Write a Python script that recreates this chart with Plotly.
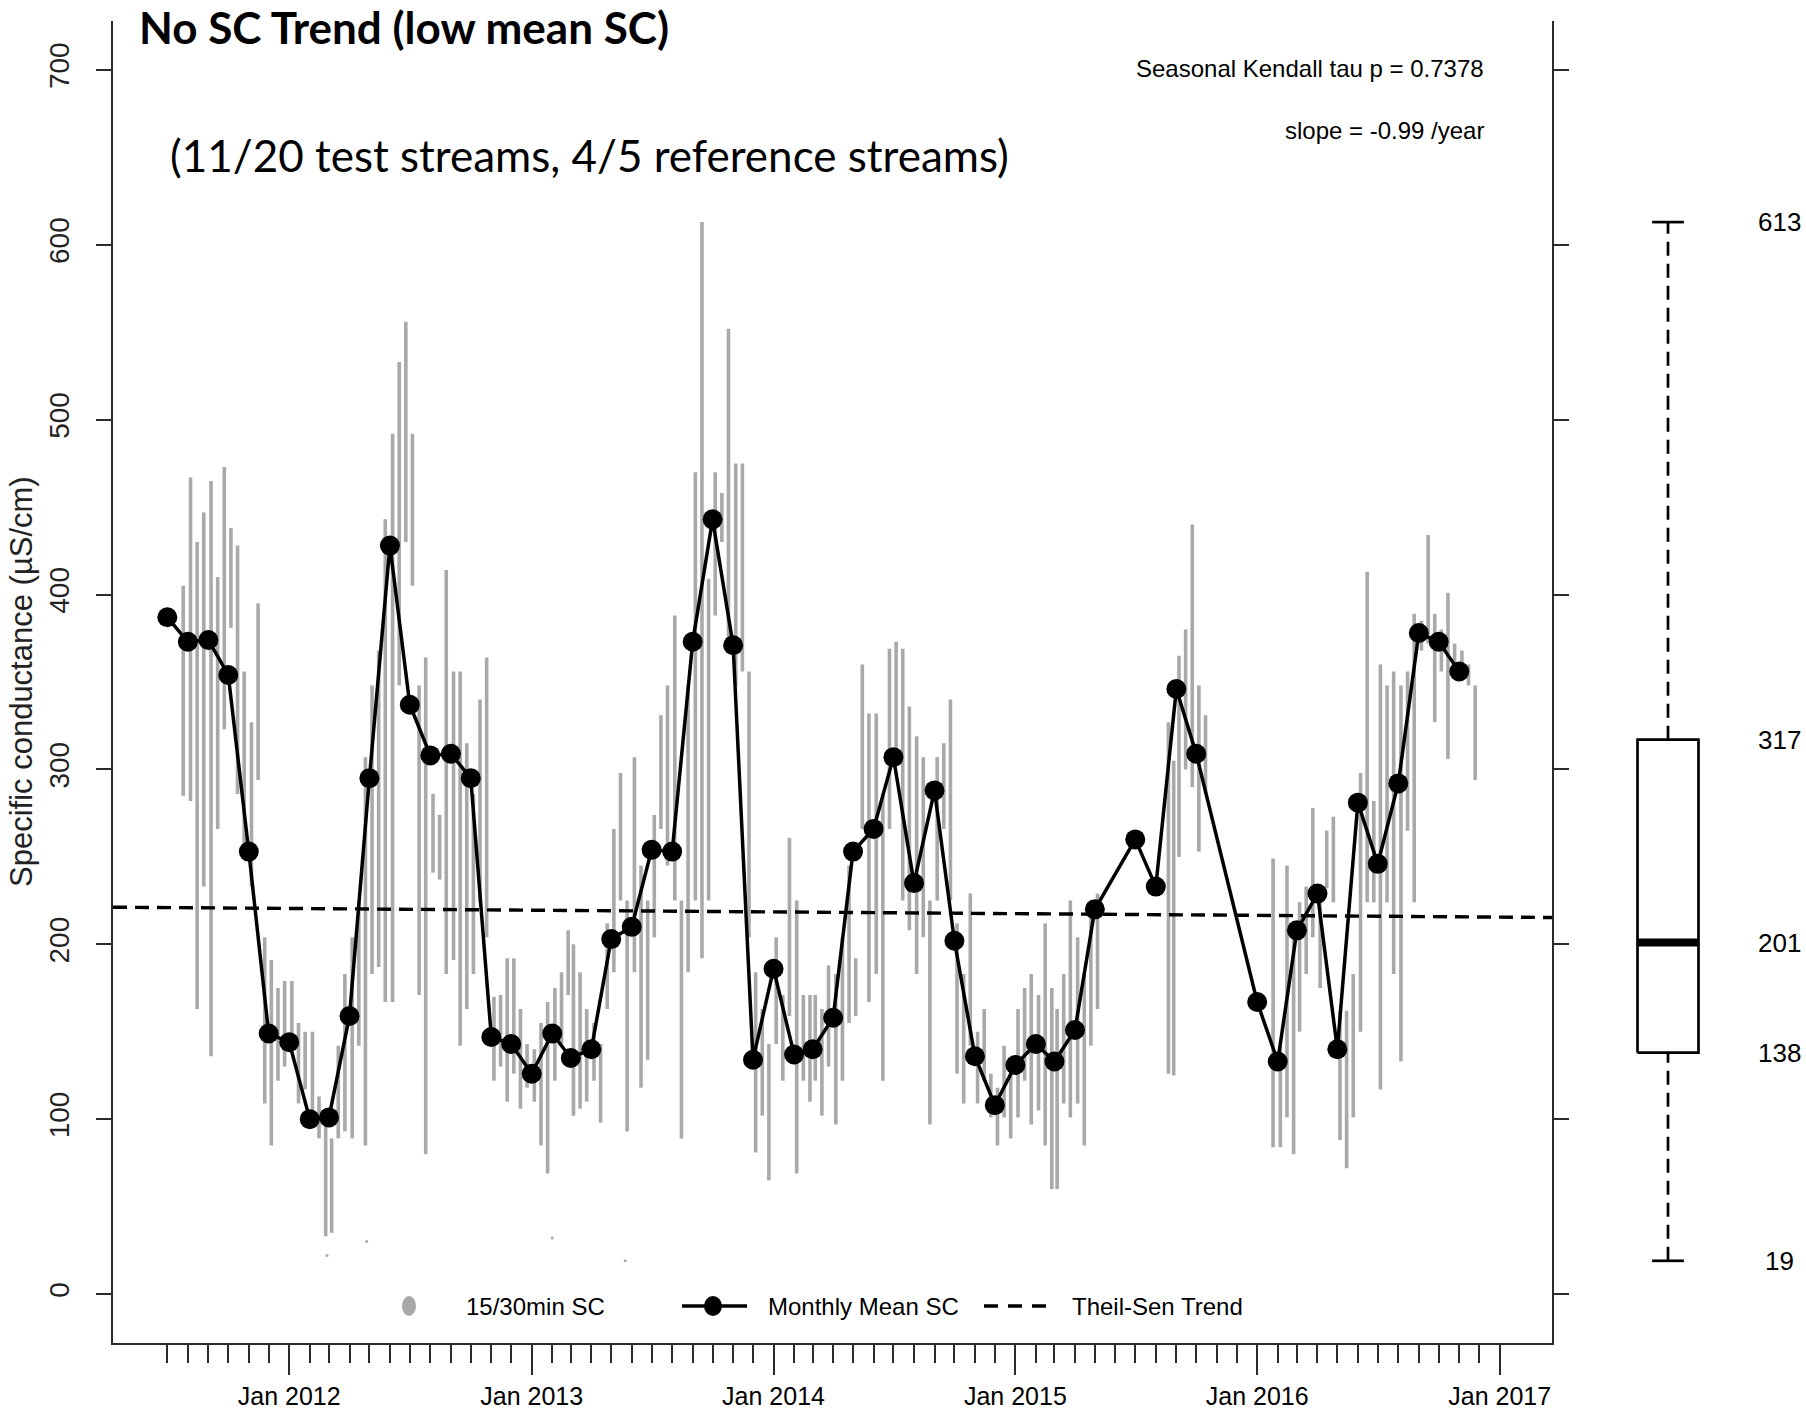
import pandas as pd
import plotly.graph_objects as go

# ---------------------------------------------------------------------------
# Data
# ---------------------------------------------------------------------------
# Monthly mean specific conductance (uS/cm), dated to the first of the month
monthly_months = [
    "2011-07", "2011-08", "2011-09", "2011-10", "2011-11", "2011-12",
    "2012-01", "2012-02", "2012-03", "2012-04", "2012-05", "2012-06",
    "2012-07", "2012-08", "2012-09", "2012-10", "2012-11", "2012-12",
    "2013-01", "2013-02", "2013-03", "2013-04", "2013-05", "2013-06",
    "2013-07", "2013-08", "2013-09", "2013-10", "2013-11", "2013-12",
    "2014-01", "2014-02", "2014-03", "2014-04", "2014-05", "2014-06",
    "2014-07", "2014-08", "2014-09", "2014-10", "2014-11", "2014-12",
    "2015-01", "2015-02", "2015-03", "2015-04", "2015-05",
    "2015-07", "2015-08", "2015-09", "2015-10",
    "2016-01", "2016-02", "2016-03", "2016-04", "2016-05", "2016-06",
    "2016-07", "2016-08", "2016-09", "2016-10", "2016-11",
]
monthly_sc = [
    387, 373, 374, 354, 253, 149,
    144, 100, 101, 159, 295, 428,
    337, 308, 309, 295, 147, 143,
    126, 149, 135, 140, 203, 210,
    254, 253, 373, 443, 371, 134,
    186, 137, 140, 158, 253, 266,
    307, 235, 288, 202, 136, 108,
    131, 143, 133, 151, 220,
    260, 233, 346, 309,
    167, 133, 208, 229, 140, 281,
    246, 292, 378, 373, 356,
]

# 15/30-minute record summarised as the low/high range of readings
# around each date (about every ten days)
gray_dates = [
    "2011-07-25", "2011-08-05", "2011-08-15", "2011-08-25", "2011-09-05", "2011-09-15",
    "2011-09-25", "2011-10-05", "2011-10-15", "2011-10-25", "2011-11-05", "2011-11-15",
    "2011-11-25", "2011-12-05", "2011-12-15", "2011-12-25", "2012-01-05", "2012-01-15",
    "2012-01-25", "2012-02-05", "2012-02-15", "2012-02-25", "2012-03-05", "2012-03-15",
    "2012-03-25", "2012-04-05", "2012-04-15", "2012-04-25", "2012-05-05", "2012-05-15",
    "2012-05-25", "2012-06-05", "2012-06-15", "2012-06-25", "2012-07-05", "2012-07-15",
    "2012-07-25", "2012-08-05", "2012-08-15", "2012-08-25", "2012-09-05", "2012-09-15",
    "2012-09-25", "2012-10-05", "2012-10-15", "2012-10-25", "2012-11-05", "2012-11-15",
    "2012-11-25", "2012-12-05", "2012-12-15", "2012-12-25", "2013-01-05", "2013-01-15",
    "2013-01-25", "2013-02-05", "2013-02-15", "2013-02-25", "2013-03-05", "2013-03-15",
    "2013-03-25", "2013-04-05", "2013-04-15", "2013-04-25", "2013-05-05", "2013-05-15",
    "2013-05-25", "2013-06-05", "2013-06-15", "2013-06-25", "2013-07-05", "2013-07-15",
    "2013-07-25", "2013-08-05", "2013-08-15", "2013-08-25", "2013-09-05", "2013-09-15",
    "2013-09-25", "2013-10-05", "2013-10-15", "2013-10-25", "2013-11-05", "2013-11-15",
    "2013-11-25", "2013-12-05", "2013-12-15", "2013-12-25", "2014-01-05", "2014-01-15",
    "2014-01-25", "2014-02-05", "2014-02-15", "2014-02-25", "2014-03-05", "2014-03-15",
    "2014-03-25", "2014-04-05", "2014-04-15", "2014-04-25", "2014-05-05", "2014-05-15",
    "2014-05-25", "2014-06-05", "2014-06-15", "2014-06-25", "2014-07-05", "2014-07-15",
    "2014-07-25", "2014-08-05", "2014-08-15", "2014-08-25", "2014-09-05", "2014-09-15",
    "2014-09-25", "2014-10-05", "2014-10-15", "2014-10-25", "2014-11-05", "2014-11-15",
    "2014-11-25", "2014-12-05", "2014-12-15", "2014-12-25", "2015-01-05", "2015-01-15",
    "2015-01-25", "2015-02-05", "2015-02-15", "2015-02-25", "2015-03-05", "2015-03-15",
    "2015-03-25", "2015-04-05", "2015-04-15", "2015-04-25", "2015-05-05",
    "2015-08-20", "2015-08-28", "2015-09-05", "2015-09-15", "2015-09-25", "2015-10-05",
    "2015-10-15",
    "2016-01-25", "2016-02-05", "2016-02-15", "2016-02-25", "2016-03-05", "2016-03-15",
    "2016-03-25", "2016-04-05", "2016-04-15", "2016-04-25", "2016-05-05", "2016-05-15",
    "2016-05-25", "2016-06-05", "2016-06-15", "2016-06-25", "2016-07-05", "2016-07-15",
    "2016-07-25", "2016-08-05", "2016-08-15", "2016-08-25", "2016-09-05", "2016-09-15",
    "2016-09-25", "2016-10-05", "2016-10-15", "2016-10-25", "2016-11-05", "2016-11-15",
    "2016-11-25",
]
gray_low = [
    285, 282, 163, 233, 136, 266,
    323, 381, 286, 249, 233, 294,
    109, 85, 122, 130, 142, 109,
    117, 105, 89, 33, 35, 89,
    93, 89, 142, 85, 183, 187,
    167, 167, 348, 430, 405, 171,
    80, 241, 237, 183, 191, 142,
    163, 183, 224, 204, 122, 130,
    110, 126, 106, 118, 110, 85,
    69, 122, 143, 171, 102, 106,
    110, 122, 98, 163, 184, 225,
    93, 184, 118, 134, 204, 266,
    245, 225, 89, 184, 225, 192,
    225, 388, 430, 368, 348, 356,
    204, 81, 102, 65, 143, 122,
    159, 69, 122, 110, 122, 102,
    130, 97, 122, 155, 159, 266,
    167, 183, 122, 266, 307, 225,
    208, 183, 204, 97, 225, 266,
    225, 126, 109, 142, 109, 122,
    101, 85, 101, 89, 101, 122,
    97, 105, 85, 60, 60, 109,
    101, 109, 85, 142, 163,
    126, 125, 250, 300, 290, 253,
    286,
    84, 84, 101, 80, 150, 183,
    204, 175, 232, 224, 88, 72,
    101, 150, 224, 224, 117, 224,
    183, 133, 265, 224, 368, 372,
    327, 356, 306, 356, 352, 348,
    294,
]
gray_high = [
    405, 467, 430, 447, 465, 410,
    473, 438, 428, 356, 327, 395,
    204, 191, 175, 179, 179, 155,
    150, 150, 113, 101, 89, 142,
    183, 204, 224, 307, 348, 368,
    443, 492, 533, 556, 492, 348,
    364, 286, 274, 414, 356, 356,
    315, 286, 340, 364, 170, 171,
    192, 192, 163, 143, 140, 155,
    167, 175, 184, 208, 200, 184,
    163, 155, 143, 212, 266, 298,
    225, 307, 245, 225, 274, 331,
    348, 388, 225, 348, 470, 613,
    409, 470, 458, 552, 475, 475,
    356, 184, 163, 143, 204, 171,
    261, 225, 171, 171, 171, 163,
    188, 183, 204, 245, 192, 360,
    332, 332, 286, 369, 373, 369,
    336, 319, 307, 225, 307, 315,
    340, 212, 183, 229, 150, 163,
    126, 118, 142, 130, 163, 175,
    183, 171, 212, 175, 163, 183,
    225, 204, 183, 225, 229,
    327, 305, 365, 380, 440, 348,
    331,
    249, 142, 245, 204, 224, 233,
    278, 224, 265, 273, 162, 162,
    183, 298, 413, 282, 360, 348,
    356, 348, 356, 389, 385, 434,
    389, 380, 401, 372, 368, 360,
    348,
]

# Isolated low readings outside the main streaks
outlier_dates = ["2012-02-27", "2012-04-27", "2013-02-01", "2013-05-22"]
outlier_sc = [22, 30, 32, 19]

# Theil-Sen trend: value at 1 Jan 2012 and slope per year
trend_at_2012 = 220.5
trend_slope = -0.99

# Boxplot summary of the full record
box_min, box_q1, box_median, box_q3, box_max = 19, 138, 201, 317, 613

# Axis ticks
year_ticks = ["2012-01-01", "2013-01-01", "2014-01-01", "2015-01-01", "2016-01-01", "2017-01-01"]
year_labels = ["Jan 2012", "Jan 2013", "Jan 2014", "Jan 2015", "Jan 2016", "Jan 2017"]
y_ticks = [0, 100, 200, 300, 400, 500, 600, 700]

# ---------------------------------------------------------------------------
# Layout constants (pixels)
# ---------------------------------------------------------------------------
W, H = 1806, 1419
L, R_EDGE, T, B = 113, 1552, 21, 1343
PW = W - L
PH = B - T
X_RANGE = ["2011-04-10", "2017-03-21"]
Y_RANGE = [-28, 728]

R_FONT = "Liberation Sans, Arial, sans-serif"
R_SIZE = 24
TITLE_FONT = "Lato, Open Sans, sans-serif"
AXIS_COLOR = "#2b2b2b"
GRAY = "#a9a9a9"


def px(x):
    return (x - L) / PW


def py(y):
    return (B - y) / PH


fig = go.Figure()

# 15/30 min record as vertical range streaks
gx, gy = [], []
for d, lo, hi in zip(gray_dates, gray_low, gray_high):
    gx += [d, d, None]
    gy += [lo, hi, None]
fig.add_trace(go.Scatter(
    x=gx, y=gy, mode="lines", line=dict(color=GRAY, width=3.6),
    hoverinfo="skip", showlegend=False,
))
fig.add_trace(go.Scatter(
    x=outlier_dates, y=outlier_sc, mode="markers",
    marker=dict(color=GRAY, size=3), showlegend=False,
))

# Theil-Sen trend line across the full axis range
x0 = pd.Timestamp(X_RANGE[0])
x1 = pd.Timestamp(X_RANGE[1])
ref = pd.Timestamp("2012-01-01")
yr = lambda t: (t - ref).days / 365.25
fig.add_trace(go.Scatter(
    x=[x0, x1],
    y=[trend_at_2012 + trend_slope * yr(x0), trend_at_2012 + trend_slope * yr(x1)],
    mode="lines", line=dict(color="black", width=3.4, dash="14px,8px"),
    showlegend=False,
))

# Monthly means
fig.add_trace(go.Scatter(
    x=pd.to_datetime(monthly_months), y=monthly_sc, mode="lines+markers",
    line=dict(color="black", width=3.5),
    marker=dict(color="black", size=20),
    showlegend=False,
))

# Boxplot of the record on its own small axis
wcol = "black"
fig.add_trace(go.Scatter(
    x=[0.5, 0.5], y=[box_q3, box_max], xaxis="x2", yaxis="y2", mode="lines",
    line=dict(color=wcol, width=2.7, dash="14px,8px"), showlegend=False))
fig.add_trace(go.Scatter(
    x=[0.5, 0.5], y=[box_min, box_q1], xaxis="x2", yaxis="y2", mode="lines",
    line=dict(color=wcol, width=2.7, dash="14px,8px"), showlegend=False))
for v in (box_min, box_max):
    fig.add_trace(go.Scatter(
        x=[0.37, 0.63], y=[v, v], xaxis="x2", yaxis="y2", mode="lines",
        line=dict(color=wcol, width=2.7), showlegend=False))
fig.add_trace(go.Scatter(
    x=[0.25, 0.75, 0.75, 0.25, 0.25], y=[box_q1, box_q1, box_q3, box_q3, box_q1],
    xaxis="x2", yaxis="y2", mode="lines", fill="toself", fillcolor="white",
    line=dict(color=wcol, width=2.7), showlegend=False))
fig.add_trace(go.Scatter(
    x=[0.25, 0.75], y=[box_median, box_median], xaxis="x2", yaxis="y2", mode="lines",
    line=dict(color=wcol, width=8), showlegend=False))

annotations = []
for v in (box_max, box_q3, box_median, box_q1, box_min):
    annotations.append(dict(
        x=px(1779), xref="paper", y=v, yref="y", text=str(v), showarrow=False,
        xanchor="center", yanchor="middle", font=dict(family=R_FONT, size=26, color="black")))

# Titles and statistics text
annotations += [
    dict(x=px(137), y=py(27), xref="paper", yref="paper", text="<b>No SC Trend (low mean SC)</b>",
         showarrow=False, xanchor="left", yanchor="middle",
         font=dict(family=TITLE_FONT, size=44, color="black")),
    dict(x=px(168), y=py(155), xref="paper", yref="paper",
         text="(11/20 test streams, 4/5 reference streams)",
         showarrow=False, xanchor="left", yanchor="middle",
         font=dict(family=TITLE_FONT, size=44, color="black")),
    dict(x=px(1486), y=py(68), xref="paper", yref="paper",
         text="Seasonal Kendall tau p = 0.7378", showarrow=False, xanchor="right", yanchor="middle",
         font=dict(family=R_FONT, size=R_SIZE, color="black")),
    dict(x=px(1486), y=py(130), xref="paper", yref="paper",
         text="slope = -0.99 /year", showarrow=False, xanchor="right", yanchor="middle",
         font=dict(family=R_FONT, size=R_SIZE, color="black")),
    dict(x=px(21), y=py(682), xref="paper", yref="paper", textangle=-90,
         text="Specific conductance (µS/cm)", showarrow=False, xanchor="center", yanchor="middle",
         font=dict(family="Liberation Sans, Arial, sans-serif", size=31, color="#222")),
]

# Legend drawn inside the frame along the bottom
LEG_Y = 1306
annotations += [
    dict(x=px(464), y=py(LEG_Y), xref="paper", yref="paper", text="15/30min SC",
         showarrow=False, xanchor="left", yanchor="middle", font=dict(family=R_FONT, size=R_SIZE, color="black")),
    dict(x=px(766), y=py(LEG_Y), xref="paper", yref="paper", text="Monthly Mean SC",
         showarrow=False, xanchor="left", yanchor="middle", font=dict(family=R_FONT, size=R_SIZE, color="black")),
    dict(x=px(1070), y=py(LEG_Y), xref="paper", yref="paper", text="Theil-Sen Trend",
         showarrow=False, xanchor="left", yanchor="middle", font=dict(family=R_FONT, size=R_SIZE, color="black")),
]
shapes = [
    dict(type="circle", xref="paper", yref="paper", x0=px(402), x1=px(416),
         y0=py(LEG_Y + 10), y1=py(LEG_Y - 10), fillcolor=GRAY, line=dict(width=0)),
    dict(type="line", xref="paper", yref="paper", x0=px(682), x1=px(747),
         y0=py(LEG_Y), y1=py(LEG_Y), line=dict(color="black", width=3.5)),
    dict(type="circle", xref="paper", yref="paper", x0=px(704), x1=px(722),
         y0=py(LEG_Y + 10), y1=py(LEG_Y - 10), fillcolor="black", line=dict(width=0)),
    dict(type="line", xref="paper", yref="paper", x0=px(984), x1=px(1046),
         y0=py(LEG_Y), y1=py(LEG_Y), line=dict(color="black", width=3.4, dash="14px,10px")),
]

minor_ticks = [d for d in pd.date_range("2011-07-01", "2016-12-01", freq="MS") if d.month != 1]

fig.update_layout(
    width=W, height=H, autosize=False,
    margin=dict(l=L, r=0, t=T, b=H - B),
    paper_bgcolor="white", plot_bgcolor="white",
    showlegend=False,
    annotations=annotations, shapes=shapes,
    xaxis=dict(
        domain=[0, px(R_EDGE)], type="date", range=X_RANGE,
        showgrid=False, zeroline=False,
        showline=True, linecolor=AXIS_COLOR, linewidth=2, mirror=False,
        ticks="outside", ticklen=30, tickwidth=2, tickcolor=AXIS_COLOR,
        tickmode="array", tickvals=year_ticks, ticktext=year_labels,
        tickfont=dict(family=R_FONT, size=25, color="black"),
        minor=dict(tickmode="array", tickvals=minor_ticks, ticks="outside",
                   ticklen=18, tickwidth=2, tickcolor=AXIS_COLOR, showgrid=False),
        anchor="y",
    ),
    yaxis=dict(
        range=Y_RANGE, showgrid=False, zeroline=False,
        showline=True, linecolor=AXIS_COLOR, linewidth=2, mirror="ticks",
        ticks="outside", ticklen=15, tickwidth=2, tickcolor=AXIS_COLOR,
        tickmode="array", tickvals=y_ticks, tickangle=-90,
        ticklabelstandoff=16,
        tickfont=dict(family="Liberation Sans, Arial, sans-serif", size=28, color="#222"),
        anchor="x",
    ),
    xaxis2=dict(domain=[px(1607), px(1729)], range=[0, 1], visible=False, anchor="y2"),
    yaxis2=dict(domain=[0, 1], range=Y_RANGE, visible=False, anchor="x2"),
)

fig.write_html("out.html")
